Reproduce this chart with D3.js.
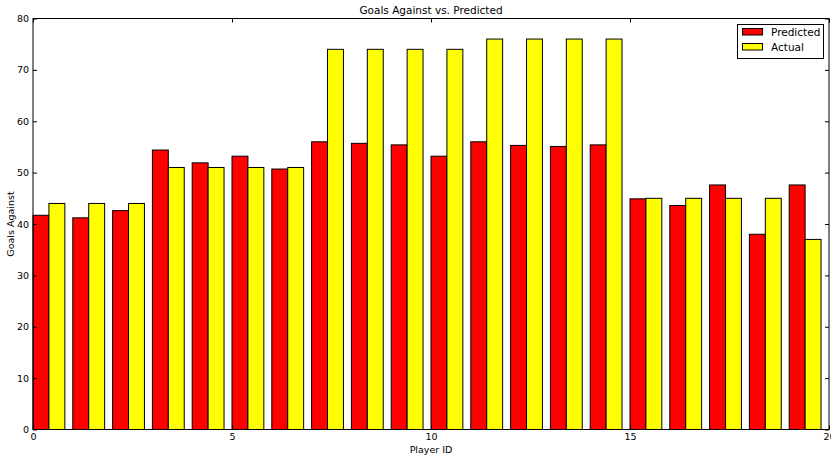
<!DOCTYPE html>
<html>
<head>
<meta charset="utf-8">
<script src="https://cdn.jsdelivr.net/npm/d3@7"></script>
<style>
  html, body { margin: 0; padding: 0; background: #fff; }
  svg { display: block; font-family: "DejaVu Sans", sans-serif; }
</style>
</head>
<body>
<svg id="chart" width="831" height="458"></svg>
<script>
// Player goals against: model prediction vs. actual
const playerIds = [0, 1, 2, 3, 4, 5, 6, 7, 8, 9, 10, 11, 12, 13, 14, 15, 16, 17, 18, 19];
const predicted = [41.7, 41.2, 42.6, 54.4, 51.9, 53.2, 50.7, 56.0, 55.7, 55.4,
                   53.2, 56.0, 55.3, 55.1, 55.4, 44.9, 43.6, 47.6, 38.0, 47.6];
const actual    = [44, 44, 44, 51, 51, 51, 51, 74, 74, 74,
                   74, 76, 76, 76, 76, 45, 45, 45, 45, 37];
const xTicks = [0, 5, 10, 15, 20];
const yTicks = [0, 10, 20, 30, 40, 50, 60, 70, 80];
const seriesNames = ["Predicted", "Actual"];
const seriesColors = ["#ff0000", "#ffff00"];

const barWidth = 0.4;
const plot = { left: 33, right: 829, top: 18.5, bottom: 429.5 };

const svg = d3.select("#chart");

const x = d3.scaleLinear().domain([0, 20]).range([plot.left, plot.right]);
const y = d3.scaleLinear().domain([0, 80]).range([plot.bottom, plot.top]);

// Bars: predicted on the left half of each slot, actual on the right
const series = [predicted, actual];
series.forEach((vals, s) => {
  svg.append("g")
    .selectAll("rect")
    .data(playerIds)
    .join("rect")
    .attr("x", i => x(i + s * barWidth))
    .attr("y", i => y(vals[i]))
    .attr("width", i => x(i + (s + 1) * barWidth) - x(i + s * barWidth))
    .attr("height", i => y(0) - y(vals[i]))
    .attr("fill", seriesColors[s])
    .attr("stroke", "#000")
    .attr("stroke-width", 1);
});

// Axes with inward ticks on all four sides
const fmt = d3.format("d");
const axisB = svg.append("g")
  .attr("transform", `translate(0,${plot.bottom})`)
  .call(d3.axisBottom(x).tickValues(xTicks).tickFormat(fmt).tickSize(-4).tickSizeOuter(0).tickPadding(4));
const axisL = svg.append("g")
  .attr("transform", `translate(${plot.left},0)`)
  .call(d3.axisLeft(y).tickValues(yTicks).tickFormat(fmt).tickSize(-4).tickSizeOuter(0).tickPadding(4));
const axisT = svg.append("g")
  .attr("transform", `translate(0,${plot.top})`)
  .call(d3.axisTop(x).tickValues(xTicks).tickFormat("").tickSize(-4).tickSizeOuter(0));
const axisR = svg.append("g")
  .attr("transform", `translate(${plot.right},0)`)
  .call(d3.axisRight(y).tickValues(yTicks).tickFormat("").tickSize(-4).tickSizeOuter(0));

[axisB, axisL, axisT, axisR].forEach(g => {
  g.select(".domain").remove();
  g.selectAll(".tick line").attr("stroke", "#000");
  g.selectAll(".tick text")
    .attr("fill", "#000")
    .style("font-family", "DejaVu Sans, sans-serif")
    .style("font-size", "9.5px");
});

// Frame
svg.append("rect")
  .attr("x", plot.left).attr("y", plot.top)
  .attr("width", plot.right - plot.left).attr("height", plot.bottom - plot.top)
  .attr("fill", "none").attr("stroke", "#000").attr("stroke-width", 1);

// Title and axis labels
svg.append("text")
  .attr("x", (plot.left + plot.right) / 2).attr("y", 14)
  .attr("text-anchor", "middle")
  .style("font-size", "10.5px")
  .text("Goals Against vs. Predicted");

svg.append("text")
  .attr("x", (plot.left + plot.right) / 2).attr("y", 453)
  .attr("text-anchor", "middle")
  .style("font-size", "9.5px")
  .text("Player ID");

svg.append("text")
  .attr("transform", `translate(14,${(plot.top + plot.bottom) / 2}) rotate(-90)`)
  .attr("text-anchor", "middle")
  .style("font-size", "9.5px")
  .text("Goals Against");

// Legend
const legend = svg.append("g");
legend.append("rect")
  .attr("x", 737.5).attr("y", 24.5).attr("width", 86).attr("height", 34)
  .attr("fill", "#fff").attr("stroke", "#000").attr("stroke-width", 1);
seriesNames.forEach((name, k) => {
  const cy = 31.5 + k * 15;
  legend.append("rect")
    .attr("x", 742.5).attr("y", cy - 3).attr("width", 20).attr("height", 6.5)
    .attr("fill", seriesColors[k]).attr("stroke", "#000").attr("stroke-width", 1);
  legend.append("text")
    .attr("x", 771).attr("y", cy + 4)
    .style("font-size", "10.5px")
    .text(name);
});
</script>
</body>
</html>
